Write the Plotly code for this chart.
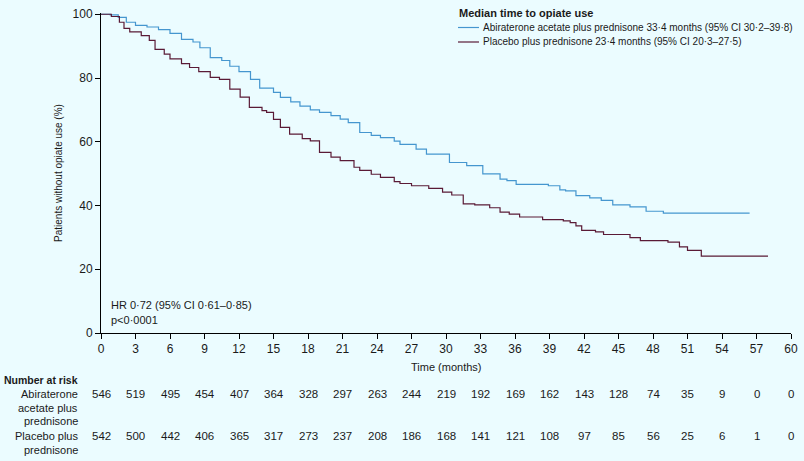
import plotly.graph_objects as go

# ---- data ----
abi_months = [0, 0.8, 1.5, 2.2, 3.0, 4.0, 5.0, 6.0, 7.0, 8.0, 8.6, 9.5, 10.5, 11.2, 12.0, 13.0,
              13.8, 15.0, 15.6, 16.5, 17.3, 18.2, 19.0, 20.0, 20.8, 21.5, 22.5, 23.5, 24.3, 25.5,
              26.0, 27.4, 28.3, 30.3, 31.8, 33.2, 34.7, 35.3, 36.1, 38.9, 39.9, 40.4, 41.3, 42.5,
              43.5, 44.5, 46.0, 47.4, 48.9, 56.4]
abi_pct = [100, 99.8, 99.0, 97.5, 96.5, 96.0, 95.2, 94.0, 92.1, 91.3, 89.5, 86.4, 85.5, 83.7, 82.0, 79.6,
           76.8, 75.5, 73.9, 72.5, 71.2, 70.0, 69.2, 68.2, 67.1, 66.0, 62.9, 62.0, 61.3, 60.2,
           59.2, 57.7, 56.1, 53.5, 52.5, 49.9, 48.3, 47.8, 46.6, 46.2, 44.9, 44.6, 43.1, 42.4,
           41.6, 40.2, 39.6, 38.2, 37.6, 37.6]

pla_months = [0, 0.9, 1.6, 2.0, 2.5, 3.5, 4.2, 4.7, 5.5, 6.0, 7.0, 7.7, 8.5, 9.5, 10.3, 11.2, 12.1,
              12.9, 14.0, 14.4, 15.0, 15.6, 16.4, 17.5, 18.2, 19.0, 20.0, 20.8, 22.0, 22.5, 23.5,
              24.3, 25.5, 26.0, 27.0, 28.5, 29.7, 30.5, 31.5, 32.5, 33.8, 34.7, 35.5, 36.4, 38.4,
              40.2, 40.8, 41.3, 41.8, 43.0, 43.7, 46.0, 46.9, 49.3, 50.3, 51.0, 52.2, 58.0]
pla_pct = [100, 99.3, 97.5, 95.6, 94.5, 93.3, 91.8, 89.0, 87.5, 86.0, 84.5, 83.3, 82.0, 80.2, 79.6, 76.5, 74.0,
           70.8, 69.8, 69.2, 67.0, 64.5, 62.4, 61.0, 60.3, 56.7, 55.2, 54.1, 52.0, 51.0, 49.8,
           48.8, 47.5, 46.9, 46.2, 45.4, 44.2, 43.3, 40.5, 40.2, 39.3, 37.9, 37.3, 36.4, 35.6,
           35.2, 34.6, 33.6, 32.2, 31.7, 30.9, 29.9, 29.0, 28.5, 27.0, 25.9, 24.1, 24.1]

risk_months = list(range(0, 61, 3))
abi_risk = [546, 519, 495, 454, 407, 364, 328, 297, 263, 244, 219, 192, 169, 162, 143, 128, 74, 35, 9, 0, 0]
pla_risk = [542, 500, 442, 406, 365, 317, 273, 237, 208, 186, 168, 141, 121, 108, 97, 85, 56, 25, 6, 1, 0]

legend_title = "Median time to opiate use"
abi_name = "Abiraterone acetate plus prednisone 33·4 months (95% CI 30·2–39·8)"
pla_name = "Placebo plus prednisone 23·4 months (95% CI 20·3–27·5)"
abi_label_lines = ["Abiraterone", "acetate plus", "prednisone"]
pla_label_lines = ["Placebo plus", "prednisone"]

BG = "#ebfcff"
BLUE = "#4596cf"
RED = "#5a1a36"
TXT = "#1a1a1a"
FONT = "Liberation Sans, Arial, sans-serif"

fig = go.Figure()
fig.add_trace(go.Scatter(x=abi_months, y=abi_pct, mode="lines", line=dict(color=BLUE, width=1.2, shape="hv"),
                         name=abi_name, showlegend=False))
fig.add_trace(go.Scatter(x=pla_months, y=pla_pct, mode="lines", line=dict(color=RED, width=1.2, shape="hv"),
                         name=pla_name, showlegend=False))

# plot area: 690 x 320 px ; helpers convert reference pixel positions to paper coords
def px(xp):
    return (xp - 101) / 690.0

def py(yp):
    return (333 - yp) / 320.0

ann = []
row1_y, row2_y = 394, 436
for m, a, p in zip(risk_months, abi_risk, pla_risk):
    ann.append(dict(x=m, y=py(row1_y), xref="x", yref="paper", text=str(a), showarrow=False,
                    font=dict(size=11.5, color=TXT), xanchor="center", yanchor="middle"))
    ann.append(dict(x=m, y=py(row2_y), xref="x", yref="paper", text=str(p), showarrow=False,
                    font=dict(size=11.5, color=TXT), xanchor="center", yanchor="middle"))

ann.append(dict(x=px(80), y=py(380), xref="paper", yref="paper", text="<b>Number at risk</b>",
                showarrow=False, xanchor="right", yanchor="middle", font=dict(size=10.5, color=TXT)))
for i, t in enumerate(abi_label_lines):
    ann.append(dict(x=px(80), y=py(row1_y + 13.5 * i), xref="paper", yref="paper", text=t,
                    showarrow=False, xanchor="right", yanchor="middle", font=dict(size=11, color=TXT)))
for i, t in enumerate(pla_label_lines):
    ann.append(dict(x=px(80), y=py(row2_y + 13.5 * i), xref="paper", yref="paper", text=t,
                    showarrow=False, xanchor="right", yanchor="middle", font=dict(size=11, color=TXT)))

ann += [
    dict(x=0.5, y=py(367), xref="paper", yref="paper", text="Time (months)", showarrow=False,
         xanchor="center", yanchor="middle", font=dict(size=11, color=TXT)),
    dict(x=px(109), y=py(305), xref="paper", yref="paper", text="HR 0·72 (95% CI 0·61–0·85)",
         showarrow=False, xanchor="left", yanchor="middle", font=dict(size=11, color=TXT)),
    dict(x=px(109), y=py(320), xref="paper", yref="paper", text="p<0·0001",
         showarrow=False, xanchor="left", yanchor="middle", font=dict(size=11, color=TXT)),
    # manual legend
    dict(x=px(457), y=py(13), xref="paper", yref="paper", text="<b>" + legend_title + "</b>",
         showarrow=False, xanchor="left", yanchor="middle", font=dict(size=11, color=TXT)),
    dict(x=px(481), y=py(27.5), xref="paper", yref="paper", text=abi_name,
         showarrow=False, xanchor="left", yanchor="middle", font=dict(size=10, color=TXT)),
    dict(x=px(481), y=py(42), xref="paper", yref="paper", text=pla_name,
         showarrow=False, xanchor="left", yanchor="middle", font=dict(size=10, color=TXT)),
]

shapes = [
    dict(type="line", xref="paper", yref="paper", x0=px(458), x1=px(479), y0=py(27.5), y1=py(27.5),
         line=dict(color=BLUE, width=1.2)),
    dict(type="line", xref="paper", yref="paper", x0=px(458), x1=px(479), y0=py(42), y1=py(42),
         line=dict(color=RED, width=1.2)),
]

fig.update_layout(
    width=804, height=461,
    margin=dict(l=101, r=13, t=13, b=128, autoexpand=False),
    paper_bgcolor=BG, plot_bgcolor=BG,
    font=dict(family=FONT, size=11, color=TXT),
    showlegend=False,
    xaxis=dict(range=[0, 60], tickvals=risk_months, ticks="outside", ticklen=5, tickcolor="black",
               showline=True, linecolor="black", linewidth=1, showgrid=False, zeroline=False,
               tickfont=dict(size=12, color=TXT)),
    yaxis=dict(range=[0, 100.4], tickvals=[0, 20, 40, 60, 80, 100], ticks="outside", ticklen=5,
               tickcolor="black", showline=True, linecolor="black", linewidth=1, showgrid=False,
               zeroline=False, tickfont=dict(size=12, color=TXT),
               title=dict(text="Patients without opiate use (%)", font=dict(size=10),
                          standoff=8)),
    annotations=ann,
    shapes=shapes,
)

fig.write_html("out.html", config={"displayModeBar": False},
               post_script="document.body.style.margin='0px';document.body.style.overflow='hidden';")
